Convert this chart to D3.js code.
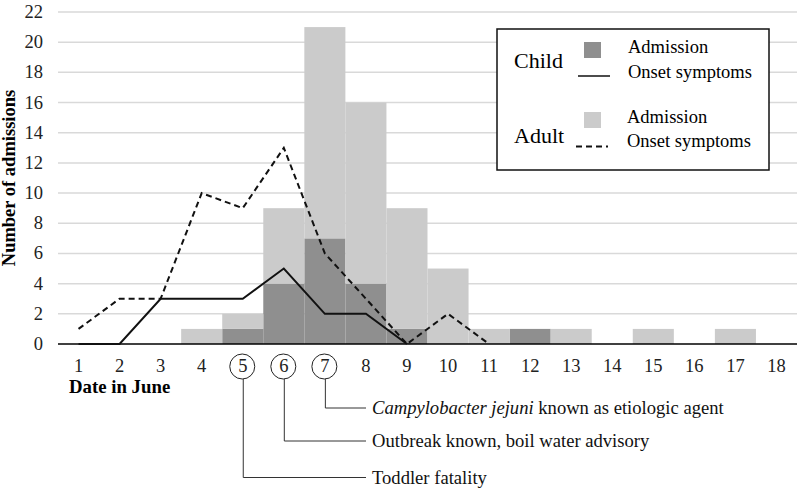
<!DOCTYPE html>
<html>
<head>
<meta charset="utf-8">
<script src="https://cdn.jsdelivr.net/npm/d3@7"></script>
<style>
  html, body { margin: 0; padding: 0; background: #fff; }
  svg { display: block; }
  svg text { font-family: 'Liberation Serif', 'DejaVu Serif', serif; }
</style>
</head>
<body>
<svg id="chart" width="800" height="491" font-family="Liberation Serif, DejaVu Serif, serif"></svg>
<script>
// ---- data ----
const days = [1,2,3,4,5,6,7,8,9,10,11,12,13,14,15,16,17,18];
const childAdmissions = [0,0,0,0,1,4,7,4,1,0,0,1,0,0,0,0,0,0];
const adultAdmissions = [0,0,0,1,1,5,14,12,8,5,1,0,1,0,1,0,1,0];
const childOnsetDays = [1,2,3,4,5,6,7,8,9];
const childOnset = [0,0,3,3,3,5,2,2,0];
const adultOnsetDays = [1,2,3,4,5,6,7,8,9,10,11];
const adultOnset = [1,3,3,10,9,13,6,3,0,2,0];
const yTicks = [0,2,4,6,8,10,12,14,16,18,20,22];
const circledDays = [5,6,7];
const events = [
  {day: 7, parts: [{t: "Campylobacter jejuni", italic: true}, {t: " known as etiologic agent"}]},
  {day: 6, parts: [{t: "Outbreak known, boil water advisory"}]},
  {day: 5, parts: [{t: "Toddler fatality"}]}
];

// ---- layout ----
(function () {
const svg = d3.select("#chart");
const FONT = "Liberation Serif, DejaVu Serif, serif";
const mLeft = 58, mRight = 797, mTop = 12, mBottom = 344;
const x = d3.scaleBand().domain(days).range([mLeft, mRight]).padding(0);
const y = d3.scaleLinear().domain([0, 22]).range([mBottom, mTop]);
const cx = d => x(d) + x.bandwidth() / 2;

const lightGray = "#cbcbcb", darkGray = "#8f8f8f";

// gridlines
svg.append("g").selectAll("line").data(yTicks.filter(t => t > 0)).join("line")
  .attr("x1", mLeft).attr("x2", mRight)
  .attr("y1", d => y(d)).attr("y2", d => y(d))
  .attr("stroke", "#d9d9d9").attr("stroke-width", 1.5);

// y tick labels
svg.append("g").selectAll("text").data(yTicks).join("text")
  .attr("font-family", FONT)
  .attr("x", 43).attr("y", d => y(d) + 6)
  .attr("text-anchor", "end").attr("font-size", 18.5).attr("fill", "#222")
  .text(d => d);

// stacked bars: child (dark) at bottom, adult (light) on top
const stackData = days.map((d, i) => ({day: d, child: childAdmissions[i], adult: adultAdmissions[i]}));
const series = d3.stack().keys(["child", "adult"])(stackData);
const colors = {child: darkGray, adult: lightGray};
svg.append("g").selectAll("g").data(series).join("g")
  .attr("fill", s => colors[s.key])
  .selectAll("rect").data(s => s.filter(p => p[1] > p[0])).join("rect")
  .attr("x", p => x(p.data.day)).attr("width", x.bandwidth())
  .attr("y", p => y(p[1])).attr("height", p => y(p[0]) - y(p[1]));

// axis baseline
svg.append("line").attr("x1", mLeft).attr("x2", mRight).attr("y1", mBottom).attr("y2", mBottom)
  .attr("stroke", "#000").attr("stroke-width", 1.6);

// onset lines
const line = d3.line().x(d => cx(d[0])).y(d => y(d[1]));
svg.append("path").datum(childOnsetDays.map((d, i) => [d, childOnset[i]]))
  .attr("d", line).attr("fill", "none").attr("stroke", "#111").attr("stroke-width", 2);
svg.append("path").datum(adultOnsetDays.map((d, i) => [d, adultOnset[i]]))
  .attr("d", line).attr("fill", "none").attr("stroke", "#111").attr("stroke-width", 2)
  .attr("stroke-dasharray", "6,4");

// x tick labels
svg.append("g").selectAll("text").data(days).join("text")
  .attr("font-family", FONT)
  .attr("x", d => cx(d)).attr("y", 372)
  .attr("text-anchor", "middle").attr("font-size", 18.5).attr("fill", "#222")
  .text(d => d);

// circles around event days
svg.append("g").selectAll("circle").data(circledDays).join("circle")
  .attr("cx", d => cx(d) - 0.5).attr("cy", 366.5).attr("r", 12.5)
  .attr("fill", "none").attr("stroke", "#222").attr("stroke-width", 1);

// x-axis title
svg.append("text").attr("font-family", FONT).attr("x", 69).attr("y", 393)
  .attr("font-size", 18.8).attr("font-weight", "bold").text("Date in June");

// y-axis title
svg.append("text").attr("font-family", FONT).attr("transform", "translate(15,178) rotate(-90)")
  .attr("text-anchor", "middle").attr("font-size", 18.5).attr("font-weight", "bold")
  .text("Number of admissions");

// event annotations
const evY = {7: 408, 6: 441, 5: 477.5};
const evG = svg.append("g");
events.forEach(e => {
  const lx = cx(e.day) + 0.5;
  const ly = evY[e.day];
  evG.append("path")
    .attr("d", `M${lx},379 V${ly} H366`)
    .attr("fill", "none").attr("stroke", "#333").attr("stroke-width", 1);
  const t = evG.append("text").attr("font-family", FONT).attr("x", 372).attr("y", ly + 6)
    .attr("font-size", 18.6).attr("fill", "#111");
  e.parts.forEach(p => t.append("tspan").attr("font-style", p.italic ? "italic" : "normal").text(p.t));
});

// legend
const lg = svg.append("g").attr("font-family", FONT);
lg.append("rect").attr("x", 497).attr("y", 29).attr("width", 272).attr("height", 141)
  .attr("fill", "#fff").attr("stroke", "#111").attr("stroke-width", 1.5);
lg.append("text").attr("x", 514).attr("y", 68).attr("font-size", 22).text("Child");
lg.append("text").attr("x", 514).attr("y", 143).attr("font-size", 22).text("Adult");
lg.append("rect").attr("x", 584).attr("y", 42).attr("width", 17).attr("height", 16).attr("fill", darkGray);
lg.append("rect").attr("x", 584).attr("y", 112).attr("width", 17).attr("height", 16).attr("fill", lightGray);
lg.append("line").attr("x1", 578).attr("x2", 610).attr("y1", 76).attr("y2", 76)
  .attr("stroke", "#111").attr("stroke-width", 1.5);
lg.append("line").attr("x1", 576).attr("x2", 608).attr("y1", 146.5).attr("y2", 146.5)
  .attr("stroke", "#111").attr("stroke-width", 2).attr("stroke-dasharray", "6,4");
lg.append("text").attr("x", 628).attr("y", 52.5).attr("font-size", 18.5).text("Admission");
lg.append("text").attr("x", 628).attr("y", 78).attr("font-size", 18.5).text("Onset symptoms");
lg.append("text").attr("x", 627).attr("y", 122.5).attr("font-size", 18.5).text("Admission");
lg.append("text").attr("x", 627).attr("y", 147).attr("font-size", 18.5).text("Onset symptoms");
})();
</script>
</body>
</html>
